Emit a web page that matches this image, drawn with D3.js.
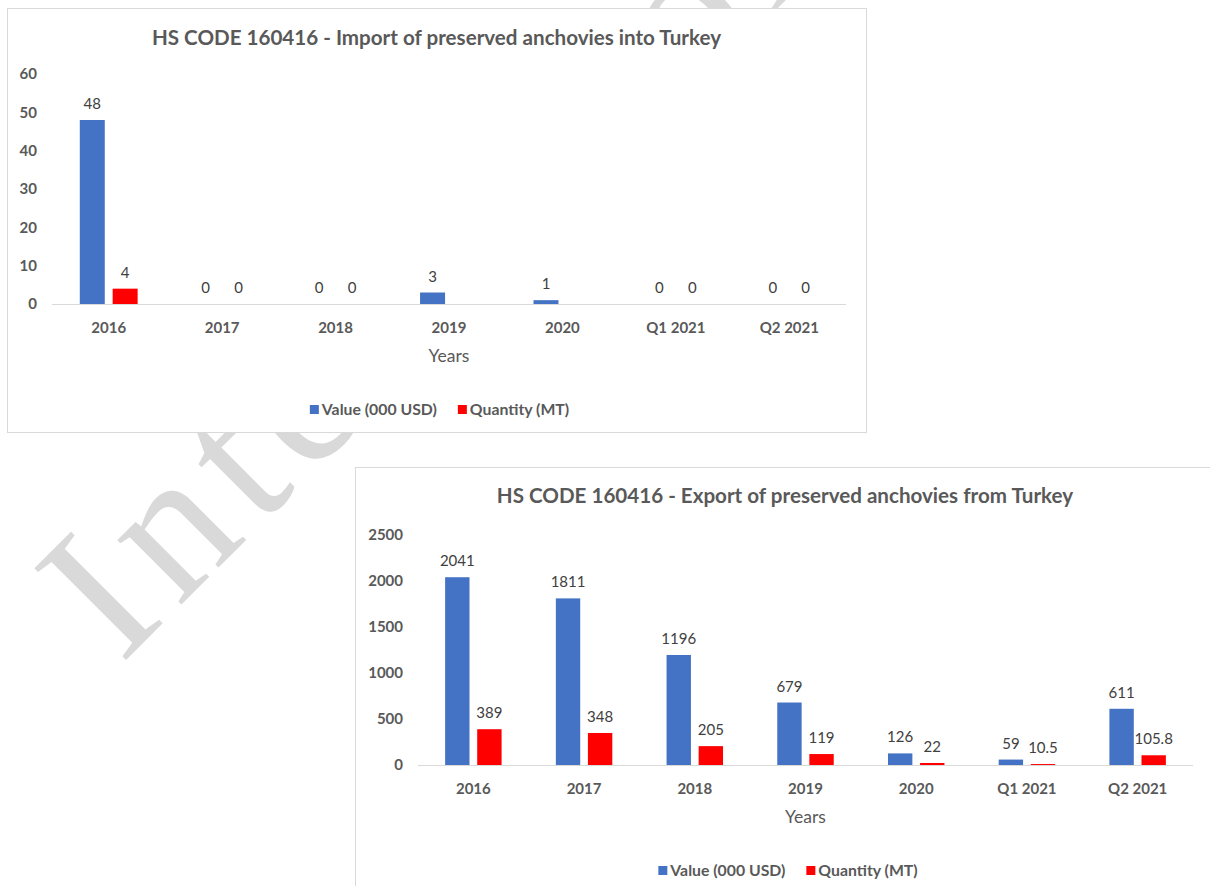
<!DOCTYPE html>
<html>
<head>
<meta charset="utf-8">
<script src="https://cdn.jsdelivr.net/npm/d3@7"></script>
<style>
  html, body { margin: 0; padding: 0; background: #ffffff; }
  svg { display: block; }
</style>
</head>
<body>
<svg id="page" width="1210" height="886"></svg>
<script>
// ---- data ----
const categories = ["2016", "2017", "2018", "2019", "2020", "Q1 2021", "Q2 2021"];
const seriesNames = ["Value (000 USD)", "Quantity (MT)"];
const seriesColors = ["#4472C4", "#FF0000"];

const importValue = [48, 0, 0, 3, 1, 0, 0];
const importQuantity = [4, 0, 0, null, null, 0, 0];
const importTicks = [0, 10, 20, 30, 40, 50, 60];

const exportValue = [2041, 1811, 1196, 679, 126, 59, 611];
const exportQuantity = [389, 348, 205, 119, 22, 10.5, 105.8];
const exportTicks = [0, 500, 1000, 1500, 2000, 2500];

const FONT = "Lato, 'Open Sans', sans-serif";
const TEXT_GREY = "#595959";
const LABEL_GREY = "#404040";

const svg = d3.select("#page");

// document watermark, sits behind the chart panels
svg.append("text")
  .attr("transform", "translate(121,665) rotate(-45)")
  .attr("font-family", "'Liberation Serif', 'Times New Roman', serif")
  .attr("font-size", 198)
  .attr("letter-spacing", 15)
  .attr("fill", "#d9d9d9")
  .text("International");

function drawChart(opt) {
  const g = svg.append("g").attr("transform", `translate(${opt.x},${opt.y})`);

  g.append("rect")
    .attr("x", 0.5).attr("y", 0.5)
    .attr("width", opt.w).attr("height", opt.h)
    .attr("fill", "#ffffff")
    .attr("stroke", "#d9d9d9")
    .attr("stroke-width", 1);

  // title
  g.append("text")
    .attr("x", opt.w / 2).attr("y", opt.titleY)
    .attr("text-anchor", "middle")
    .attr("font-family", FONT).attr("font-weight", 700)
    .attr("font-size", 20.6).attr("fill", TEXT_GREY)
    .text(opt.title);

  const x0 = d3.scaleBand()
    .domain(categories)
    .range([opt.left, opt.right])
    .paddingInner(0.49).paddingOuter(0.245);

  const keys = [0, 1];
  const x1 = d3.scaleBand()
    .domain(keys)
    .range([0, x0.bandwidth()])
    .paddingInner(0.24);

  const yMax = opt.ticks[opt.ticks.length - 1];
  const y = d3.scaleLinear().domain([0, yMax]).range([opt.bottom, opt.top]);

  // y axis (labels only)
  const yAxis = d3.axisLeft(y)
    .tickValues(opt.ticks)
    .tickFormat(d3.format("d"))
    .tickSize(0).tickPadding(0);
  const yg = g.append("g")
    .attr("transform", `translate(${opt.tickLabelX},0)`)
    .call(yAxis);
  yg.select(".domain").remove();
  yg.selectAll("text")
    .attr("font-family", FONT).attr("font-weight", 700)
    .attr("font-size", 15).attr("fill", TEXT_GREY);

  // category axis
  const xAxis = d3.axisBottom(x0).tickSize(0).tickPadding(0);
  const xg = g.append("g")
    .attr("transform", `translate(0,${opt.bottom})`)
    .call(xAxis);
  xg.select(".domain").remove();
  xg.selectAll("text")
    .attr("dy", null)
    .attr("y", 29)
    .attr("font-family", FONT).attr("font-weight", 700)
    .attr("font-size", 15).attr("fill", TEXT_GREY);

  // baseline
  g.append("line")
    .attr("x1", opt.left).attr("x2", opt.right)
    .attr("y1", y(0) + 0.5).attr("y2", y(0) + 0.5)
    .attr("stroke", "#d9d9d9").attr("stroke-width", 1.2);

  const rows = categories.map((c, i) => ({
    cat: c,
    vals: [opt.values[i], opt.quantities[i]]
  }));

  const groups = g.append("g").selectAll("g")
    .data(rows).join("g")
    .attr("transform", d => `translate(${x0(d.cat)},0)`);

  groups.selectAll("rect")
    .data(d => keys.map(k => ({ k, v: d.vals[k] })))
    .join("rect")
    .attr("x", d => x1(d.k))
    .attr("width", x1.bandwidth())
    .attr("y", d => y(d.v || 0))
    .attr("height", d => y(0) - y(d.v || 0))
    .attr("fill", d => seriesColors[d.k]);

  groups.selectAll("text")
    .data(d => keys.map(k => ({ k, v: d.vals[k] })).filter(d => d.v !== null))
    .join("text")
    .attr("x", d => x1(d.k) + x1.bandwidth() / 2)
    .attr("y", d => y(d.v) - 11)
    .attr("text-anchor", "middle")
    .attr("font-family", FONT).attr("font-size", 15)
    .attr("fill", LABEL_GREY)
    .text(d => d.v);

  // axis title
  g.append("text")
    .attr("x", (opt.left + opt.right) / 2).attr("y", opt.bottom + 58)
    .attr("text-anchor", "middle")
    .attr("font-family", FONT).attr("font-size", 17.5)
    .attr("fill", TEXT_GREY)
    .text("Years");

  // legend
  const lg = g.append("g");
  const items = lg.selectAll("g").data(seriesNames).join("g");
  items.append("rect")
    .attr("width", 9).attr("height", 9)
    .attr("y", opt.bottom + 101)
    .attr("fill", (d, i) => seriesColors[i]);
  items.append("text")
    .attr("x", 12).attr("y", opt.bottom + 111)
    .attr("font-family", FONT).attr("font-weight", 700)
    .attr("font-size", 15.8).attr("fill", TEXT_GREY)
    .text(d => d);
  let pos = 0;
  const gap = 21;
  items.each(function () {
    const w = 12 + this.querySelector("text").getComputedTextLength();
    d3.select(this).attr("transform", `translate(${pos},0)`);
    pos += w + gap;
  });
  const total = pos - gap;
  lg.attr("transform", `translate(${opt.w / 2 + 3 - total / 2},0)`);
}

drawChart({
  x: 7, y: 8, w: 859, h: 424,
  title: "HS CODE 160416 - Import of preserved anchovies into Turkey",
  titleY: 37,
  left: 45, right: 839, top: 66, bottom: 296,
  tickLabelX: 30,
  ticks: importTicks,
  values: importValue, quantities: importQuantity
});

drawChart({
  x: 355, y: 467, w: 860, h: 424,
  title: "HS CODE 160416 - Export of preserved anchovies from Turkey",
  titleY: 36,
  left: 63, right: 838, top: 68, bottom: 298,
  tickLabelX: 48,
  ticks: exportTicks,
  values: exportValue, quantities: exportQuantity
});
</script>
</body>
</html>
